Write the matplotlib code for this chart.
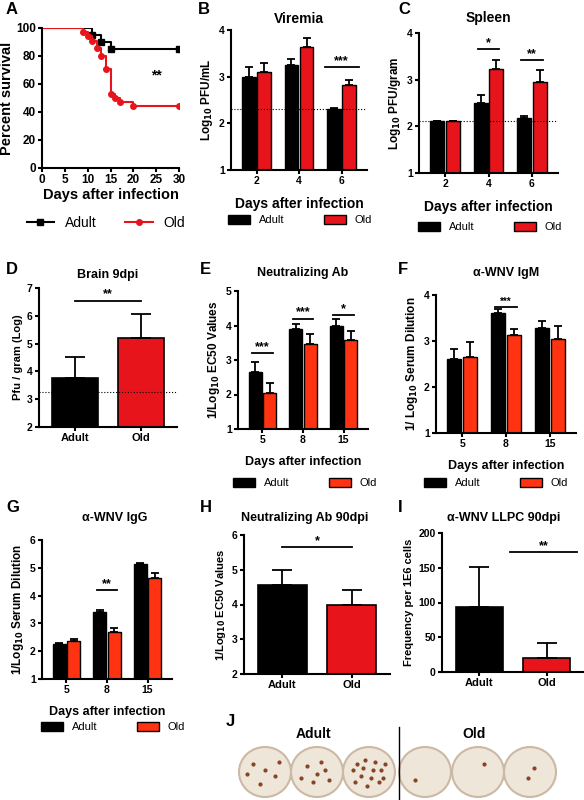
import matplotlib.pyplot as plt
from matplotlib.patches import Patch, Ellipse
from matplotlib.lines import Line2D

plt.rcParams['font.family'] = ['Liberation Sans', 'DejaVu Sans']
plt.rcParams['font.weight'] = 'bold'
plt.rcParams['axes.labelweight'] = 'bold'
plt.rcParams['axes.titleweight'] = 'bold'
plt.rcParams['mathtext.default'] = 'bf'

RED = '#e8141b'
ORANGE = '#ff3311'

# A: survival
adult_days = [0, 11, 13, 15, 30]
adult_surv = [100, 95, 90, 85, 85]
old_days = [0, 9, 10, 11, 12, 13, 14, 15, 16, 17, 20, 30]
old_surv = [100, 97, 94, 91, 86, 80, 71, 53, 50, 47, 44, 44]

# B: viremia
b_days = ['2', '4', '6']
b_adult = [3.0, 3.25, 2.3]
b_adult_err = [0.2, 0.12, 0.02]
b_old = [3.1, 3.63, 2.82]
b_old_err = [0.2, 0.2, 0.1]

# C: spleen
c_days = ['2', '4', '6']
c_adult = [2.12, 2.5, 2.18]
c_adult_err = [0.0, 0.18, 0.05]
c_old = [2.12, 3.22, 2.96]
c_old_err = [0.0, 0.2, 0.25]

# D: brain
d_groups = ['Adult', 'Old']
d_vals = [3.75, 5.2]
d_err = [0.75, 0.85]

# E: neutralizing Ab
e_days = ['5', '8', '15']
e_adult = [2.65, 3.9, 4.0]
e_adult_err = [0.3, 0.15, 0.18]
e_old = [2.05, 3.45, 3.57]
e_old_err = [0.28, 0.3, 0.28]

# F: IgM
f_adult = [2.6, 3.6, 3.28]
f_adult_err = [0.22, 0.1, 0.15]
f_old = [2.65, 3.12, 3.05]
f_old_err = [0.33, 0.15, 0.28]

# G: IgG
g_adult = [2.25, 3.4, 5.15]
g_adult_err = [0.03, 0.1, 0.03]
g_old = [2.35, 2.7, 4.62]
g_old_err = [0.1, 0.12, 0.2]

# H, I
h_vals = [4.55, 3.98]
h_err = [0.43, 0.45]
i_vals = [93, 20]
i_err = [58, 22]

fig = plt.figure(figsize=(5.84, 8), dpi=100)
W, H = 584, 800


def add_ax(l, r, t, b):
    ax = fig.add_axes([l / W, 1 - b / H, (r - l) / W, (b - t) / H])
    for s in ['top', 'right']:
        ax.spines[s].set_visible(False)
    for s in ['left', 'bottom']:
        ax.spines[s].set_linewidth(1.5)
    ax.tick_params(width=1.5, length=3, labelsize=7.5, pad=1.5)
    return ax


def label(x, y, s):
    fig.text(x / W, 1 - y / H, s, fontsize=12, weight='bold', ha='left', va='center')


def title(x, y, s, fs=9):
    fig.text(x / W, 1 - y / H, s, fontsize=fs, weight='bold', ha='center', va='center')


def sig(ax, x0, x1, y, txt, fs=9):
    ax.plot([x0, x1], [y, y], color='k', lw=1.3)
    ax.text((x0 + x1) / 2, y, txt, ha='center', va='bottom', fontsize=fs)


def legend(ax, handles, cx, cy, fs=8, spacing=3.5):
    ax.legend(handles, ['Adult', 'Old'], loc='center', bbox_to_anchor=(cx / W, 1 - cy / H),
              bbox_transform=fig.transFigure, ncol=2, frameon=False, handlelength=2,
              handleheight=0.9, columnspacing=spacing, prop={'weight': 'normal', 'size': fs})


def grouped(ax, cats, a, ae, o, oe, oc, ylim, yticks, ylabel, xlabel, leg):
    x = range(len(cats))
    w = 0.32
    ax.bar([i - w / 2 - 0.02 for i in x], a, w, yerr=[[0] * len(a), ae], color='k', edgecolor='k',
           error_kw=dict(lw=1.3, capsize=3, capthick=1.3))
    ax.bar([i + w / 2 + 0.02 for i in x], o, w, yerr=[[0] * len(o), oe], color=oc, edgecolor='k', lw=1,
           error_kw=dict(lw=1.3, capsize=3, capthick=1.3))
    ax.set_ylim(*ylim)
    ax.set_yticks(yticks)
    ax.set_xticks(list(x))
    ax.set_xticklabels(cats)
    ax.set_xlim(-0.6, len(cats) - 0.4)
    ax.set_ylabel(ylabel, fontsize=8.5, labelpad=3)
    ax.set_xlabel(xlabel, fontsize=9, labelpad=8)
    h = [Patch(facecolor='k', edgecolor='k'), Patch(facecolor=oc, edgecolor='k')]
    legend(ax, h, leg[0], leg[1])


def pair(ax, vals, err, ylim, yticks, ylabel):
    ax.bar([0, 1], vals, 0.7, yerr=[[0, 0], err], color=['k', RED], edgecolor='k', lw=1.2,
           error_kw=dict(lw=1.3, capsize=7, capthick=1.3))
    ax.set_ylim(*ylim)
    ax.set_yticks(yticks)
    ax.set_xlim(-0.55, 1.55)
    ax.set_xticks([0, 1])
    ax.set_xticklabels(d_groups, fontsize=8)
    ax.set_ylabel(ylabel, fontsize=8, labelpad=3)


# A
ax = add_ax(42, 179, 28, 168)
ax.step(adult_days, adult_surv, where='post', color='k', lw=1.5)
ax.plot(adult_days[1:], adult_surv[1:], 's', color='k', ms=4)
ax.step(old_days, old_surv, where='post', color=RED, lw=1.5)
ax.plot(old_days[1:], old_surv[1:], 'o', color=RED, ms=4)
ax.set_xlim(0, 30)
ax.set_ylim(0, 100)
ax.set_xticks(range(0, 31, 5))
ax.set_yticks(range(0, 101, 20))
ax.tick_params(labelsize=8.5)
ax.set_ylabel('Percent survival', fontsize=10.5, labelpad=1)
ax.set_xlabel('Days after infection', fontsize=10.5, labelpad=1)
ax.text(25, 63, '**', ha='center', fontsize=10)
legend(ax, [Line2D([], [], color='k', marker='s', ms=4), Line2D([], [], color=RED, marker='o', ms=4)],
       106, 223, fs=10, spacing=2)
label(6, 10, 'A')

# B
ax = add_ax(231, 367, 30, 170)
grouped(ax, b_days, b_adult, b_adult_err, b_old, b_old_err, RED, (1, 4), [1, 2, 3, 4],
        'Log$_{10}$ PFU/mL', 'Days after infection', (300, 220))
ax.xaxis.label.set_size(10)
ax.axhline(2.3, color='k', ls=':', lw=0.8)
sig(ax, 1.6, 2.4, 3.2, '***')
title(299, 19, 'Viremia', 10)
label(198, 9, 'B')

# C
ax = add_ax(419, 558, 33, 173)
grouped(ax, c_days, c_adult, c_adult_err, c_old, c_old_err, RED, (1, 4), [1, 2, 3, 4],
        'Log$_{10}$ PFU/gram', 'Days after infection', (490, 227))
ax.xaxis.label.set_size(10)
ax.axhline(2.12, color='k', ls=':', lw=0.8)
sig(ax, 0.75, 1.25, 3.65, '*')
sig(ax, 1.75, 2.25, 3.42, '**')
title(488, 18, 'Spleen', 10)
label(398, 9, 'C')

# D
ax = add_ax(39, 177, 288, 427)
pair(ax, d_vals, d_err, (2, 7), [2, 3, 4, 5, 6, 7], 'Pfu / gram (Log)')
ax.axhline(3.25, color='k', ls=':', lw=0.8)
sig(ax, 0, 1, 6.55, '**')
title(108, 275, 'Brain 9dpi')
label(6, 270, 'D')

# E
ax = add_ax(238, 368, 291, 429)
grouped(ax, e_days, e_adult, e_adult_err, e_old, e_old_err, ORANGE, (1, 5), [1, 2, 3, 4, 5],
        '1/Log$_{10}$ EC50 Values', 'Days after infection', (305, 483))
sig(ax, -0.25, 0.25, 3.2, '***')
sig(ax, 0.75, 1.25, 4.2, '***')
sig(ax, 1.75, 2.25, 4.3, '*')
title(303, 273, 'Neutralizing Ab')
label(200, 270, 'E')

# F
ax = add_ax(436, 576, 295, 433)
grouped(ax, e_days, f_adult, f_adult_err, f_old, f_old_err, ORANGE, (1, 4), [1, 2, 3, 4],
        '1/ Log$_{10}$ Serum Dilution', 'Days after infection', (496, 483))
sig(ax, 0.75, 1.25, 3.75, '***', fs=7)
title(506, 273, 'α-WNV IgM')
label(398, 270, 'F')

# G
ax = add_ax(42, 172, 540, 679)
grouped(ax, e_days, g_adult, g_adult_err, g_old, g_old_err, ORANGE, (1, 6), [1, 2, 3, 4, 5, 6],
        '1/Log$_{10}$ Serum Dilution', 'Days after infection', (113, 727))
sig(ax, 0.75, 1.25, 4.2, '**')
title(115, 518, 'α-WNV IgG')
label(6, 508, 'G')

# H
ax = add_ax(244, 390, 535, 674)
pair(ax, h_vals, h_err, (2, 6), [2, 3, 4, 5, 6], '1/Log$_{10}$ EC50 Values')
sig(ax, 0, 1, 5.65, '*')
title(305, 518, 'Neutralizing Ab 90dpi')
label(200, 507, 'H')

# I
ax = add_ax(442, 584, 533, 672)
pair(ax, i_vals, i_err, (0, 200), range(0, 201, 50), 'Frequency per 1E6 cells')
sig(ax, 0.45, 1.45, 173, '**')
title(504, 518, 'α-WNV LLPC 90dpi')
label(398, 507, 'I')

# J: ELISPOT plates (photograph, drawn schematically)
axj = fig.add_axes([0, 0, 1, 1 - 715 / H])
axj.set_xlim(0, W)
axj.set_ylim(800, 715)
axj.axis('off')
plate_x = [265, 317, 369, 425, 478, 530]
spots = [
    [(-12, -8), (10, 4), (-5, 12), (14, -10), (0, -2), (-18, 2)],
    [(-10, -6), (4, -10), (12, 8), (-4, 10), (0, 2), (8, -2), (-16, 6)],
    [(-12, -8), (-4, -12), (6, -10), (12, -2), (-8, 4), (2, 6), (10, 10), (-2, 14),
     (14, 6), (-14, 10), (-16, -2), (4, -2), (-6, -4), (16, -8)],
    [(-10, 8)],
    [(6, -8)],
    [(4, -4), (-2, 6)],
]
for px, sp in zip(plate_x, spots):
    axj.add_patch(Ellipse((px, 772), 52, 50, facecolor='#efe6da', edgecolor='#cbb9a4', lw=1.5))
    for dx, dy in sp:
        axj.plot(px + dx, 772 + dy, 'o', color='#8a4424', ms=2)
axj.plot([399, 399], [727, 800], color='k', lw=1)
axj.text(313, 734, 'Adult', ha='center', va='center', fontsize=10)
axj.text(474, 734, 'Old', ha='center', va='center', fontsize=10)
fig.text(226 / W, 1 - 722 / H, 'J', fontsize=12, weight='bold', va='center')

fig.savefig('out.png', dpi=100)
